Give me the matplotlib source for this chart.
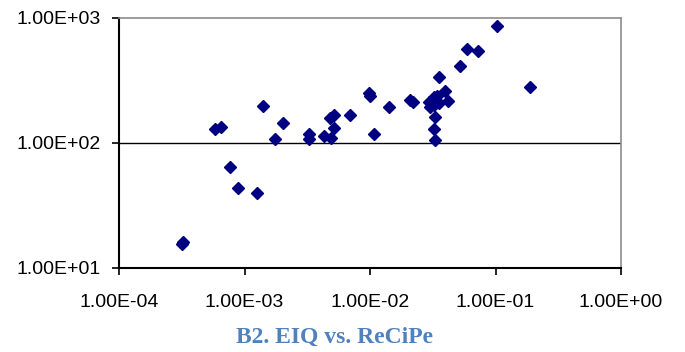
import matplotlib
matplotlib.use("Agg")
import matplotlib.pyplot as plt
from matplotlib.ticker import FixedLocator, NullLocator, FixedFormatter

# ReCiPe (x) vs EIQ (y)
recipe = [3.15e-4, 3.25e-4, 5.83e-4, 6.47e-4, 7.63e-4, 8.85e-4, 1.26e-3, 1.41e-3,
          2.03e-3, 1.76e-3, 3.26e-3, 3.26e-3, 4.29e-3, 4.93e-3, 5.18e-3, 4.82e-3,
          5.18e-3, 6.95e-3, 9.73e-3, 1.00e-2, 1.07e-2, 1.41e-2, 2.07e-2, 2.20e-2,
          3.56e-2, 3.93e-2, 4.17e-2, 5.21e-2, 5.96e-2, 7.25e-2, 1.02e-1, 1.90e-1,
          2.93e-2, 3.21e-2, 3.41e-2, 3.31e-2, 3.02e-2, 3.21e-2, 3.52e-2, 3.27e-2,
          3.22e-2, 3.27e-2]
eiq = [15.6, 16.0, 128.6, 133.0, 64.0, 43.2, 39.4, 197.6,
       142.9, 106.4, 118.0, 106.4, 113.7, 108.4, 131.8, 156.6,
       166.5, 166.5, 250.8, 236.0, 118.0, 193.8, 219.4, 212.5,
       331.7, 258.8, 213.4, 412.0, 557.0, 543.0, 855.0, 278.6,
       212.5, 233.0, 236.0, 206.5, 193.8, 200.0, 206.5, 159.6,
       128.0, 105.1]

x_ticks = [1e-4, 1e-3, 1e-2, 1e-1, 1e0]
x_labels = ["1.00E-04", "1.00E-03", "1.00E-02", "1.00E-01", "1.00E+00"]
y_ticks = [1e1, 1e2, 1e3]
y_labels = ["1.00E+01", "1.00E+02", "1.00E+03"]
title = "B2. EIQ vs. ReCiPe"

W, H = 685, 352
fig = plt.figure(figsize=(W / 100, H / 100), dpi=100)
ax = fig.add_axes([119 / W, 1 - 267.7 / H, (621 - 119) / W, (267.7 - 17.5) / H])

ax.set_xscale("log")
ax.set_yscale("log")
ax.set_xlim(1e-4, 1e0)
ax.set_ylim(1e1, 1e3)

ax.axhline(1e2, color="black", lw=1.0, zorder=1)

ax.plot(recipe, eiq, linestyle="none", marker="D", ms=6.2,
        color="#000080", markeredgecolor="#000080", zorder=3, clip_on=False)

ax.xaxis.set_major_locator(FixedLocator(x_ticks))
ax.xaxis.set_major_formatter(FixedFormatter(x_labels))
ax.yaxis.set_major_locator(FixedLocator(y_ticks))
ax.yaxis.set_major_formatter(FixedFormatter(y_labels))
ax.xaxis.set_minor_locator(NullLocator())
ax.yaxis.set_minor_locator(NullLocator())

font = ["Liberation Sans", "DejaVu Sans"]
ax.tick_params(axis="x", direction="out", length=5, width=1.2, pad=14,
               labelsize=14, color="black")
ax.tick_params(axis="y", direction="out", length=5, width=1.2, pad=8,
               labelsize=14, color="black")
for lab in ax.get_xticklabels() + ax.get_yticklabels():
    lab.set_family(font)

for side in ["left", "bottom"]:
    ax.spines[side].set_color("black")
    ax.spines[side].set_linewidth(1.5)
for side in ["top", "right"]:
    ax.spines[side].set_color("#8c8c8c")
    ax.spines[side].set_linewidth(1.2)

fig.text(334 / W, 1 - 343 / H, title, ha="center", va="baseline",
         fontsize=17, fontweight="bold", color="#4F81BD",
         family=["Liberation Serif", "DejaVu Serif"])

fig.savefig("out.png", dpi=100)
